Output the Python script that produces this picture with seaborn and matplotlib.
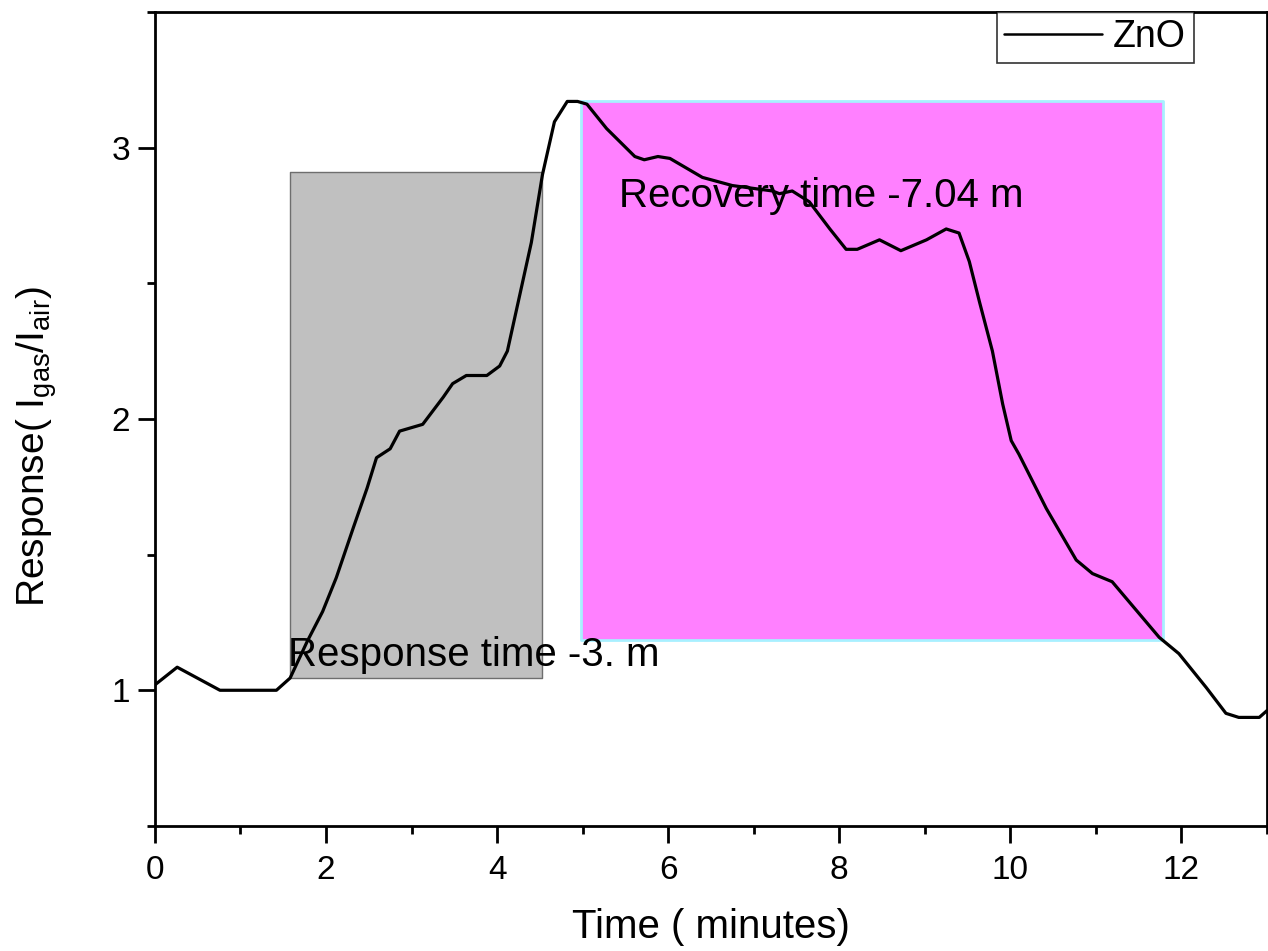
import numpy as np
import pandas as pd
import seaborn as sns
import matplotlib.pyplot as plt
from matplotlib.ticker import MultipleLocator

# response curve of the ZnO sensor
time_min = [0.0, 0.26, 0.76, 1.42, 1.58, 1.78, 1.96, 2.12, 2.32, 2.48, 2.59, 2.75,
            2.86, 3.13, 3.37, 3.48, 3.64, 3.88, 4.03, 4.12, 4.26, 4.40, 4.53, 4.58,
            4.67, 4.82, 4.94, 5.05, 5.28, 5.61, 5.72, 5.88, 6.02, 6.40, 6.75, 7.22,
            7.30, 7.45, 7.65, 7.89, 8.08, 8.21, 8.47, 8.72, 9.02, 9.25, 9.40, 9.52,
            9.64, 9.79, 9.91, 10.01, 10.10, 10.42, 10.77, 10.96, 11.19, 11.74, 11.97,
            12.29, 12.52, 12.67, 12.91, 13.0]
response = [1.02, 1.085, 1.0, 1.0, 1.045, 1.18, 1.29, 1.415, 1.60, 1.745, 1.857, 1.89,
            1.955, 1.98, 2.08, 2.13, 2.16, 2.16, 2.195, 2.25, 2.45, 2.65, 2.90, 2.97,
            3.095, 3.17, 3.17, 3.16, 3.07, 2.967, 2.955, 2.967, 2.96, 2.89, 2.86, 2.84,
            2.83, 2.84, 2.80, 2.70, 2.625, 2.625, 2.66, 2.62, 2.66, 2.70, 2.685, 2.58,
            2.43, 2.25, 2.055, 1.92, 1.87, 1.67, 1.48, 1.43, 1.40, 1.195, 1.135,
            1.01, 0.915, 0.90, 0.90, 0.925]

# shaded boxes: [x_start, x_end, y_bottom, y_top]
response_box = [1.58, 4.52, 1.044, 2.91]
recovery_box = [4.98, 11.79, 1.184, 3.17]

response_label = "Response time -3. m"
recovery_label = "Recovery time -7.04 m"

df = pd.DataFrame({"time": time_min, "response": response})

sns.set_style("ticks")
plt.rcParams['font.family'] = ['Liberation Sans', 'DejaVu Sans']
plt.rcParams['mathtext.default'] = 'regular'
plt.rcParams['text.color'] = 'black'
plt.rcParams['axes.labelcolor'] = 'black'
plt.rcParams['xtick.color'] = 'black'
plt.rcParams['ytick.color'] = 'black'

fig = plt.figure(figsize=(12.68, 9.51), dpi=100)
ax = fig.add_axes([0.1222, 0.1315, 0.877, 0.856])

# grey box for the response time
ax.fill_between(response_box[:2], response_box[2], response_box[3],
                facecolor="#c0c0c0", edgecolor="#6e6e6e", linewidth=1.0, zorder=1)
# magenta box for the recovery time
ax.fill_between(recovery_box[:2], recovery_box[2], recovery_box[3],
                facecolor="#ff80ff", edgecolor="#a8f0ff", linewidth=2.0, zorder=1)

sns.lineplot(data=df, x="time", y="response", ax=ax, color="black",
             linewidth=2.3, label="ZnO", zorder=3)

ax.text(1.55, 1.13, response_label, fontsize=29, va="center", ha="left", zorder=4)
ax.text(5.43, 2.82, recovery_label, fontsize=29, va="center", ha="left", zorder=4)

ax.set_xlim(0, 13)
ax.set_ylim(0.5, 3.5)
ax.xaxis.set_major_locator(MultipleLocator(2))
ax.xaxis.set_minor_locator(MultipleLocator(1))
ax.yaxis.set_major_locator(MultipleLocator(1))
ax.yaxis.set_minor_locator(MultipleLocator(0.5))
ax.tick_params(which="major", length=12, width=2, labelsize=24)
ax.tick_params(axis="x", which="major", pad=9)
ax.tick_params(axis="y", which="major", pad=6)
ax.tick_params(which="minor", length=6, width=2)
for sp in ax.spines.values():
    sp.set_linewidth(2)
    sp.set_color("black")

ax.set_xlabel("Time ( minutes)", fontsize=29, labelpad=16)
ax.set_ylabel("Response( I$_{gas}$/I$_{air}$)", fontsize=28)
ax.yaxis.set_label_coords(-0.086, 0.466)

leg = ax.legend(loc="upper right", bbox_to_anchor=(0.934, 1.0), borderaxespad=0,
                fontsize=27, frameon=True, fancybox=False, handlelength=2.6,
                handletextpad=0.3, borderpad=0.2)
leg.get_frame().set_edgecolor("black")
leg.get_frame().set_linewidth(1.2)
leg.get_lines()[0].set_linewidth(1.8)

fig.savefig("out.png", dpi=100)
